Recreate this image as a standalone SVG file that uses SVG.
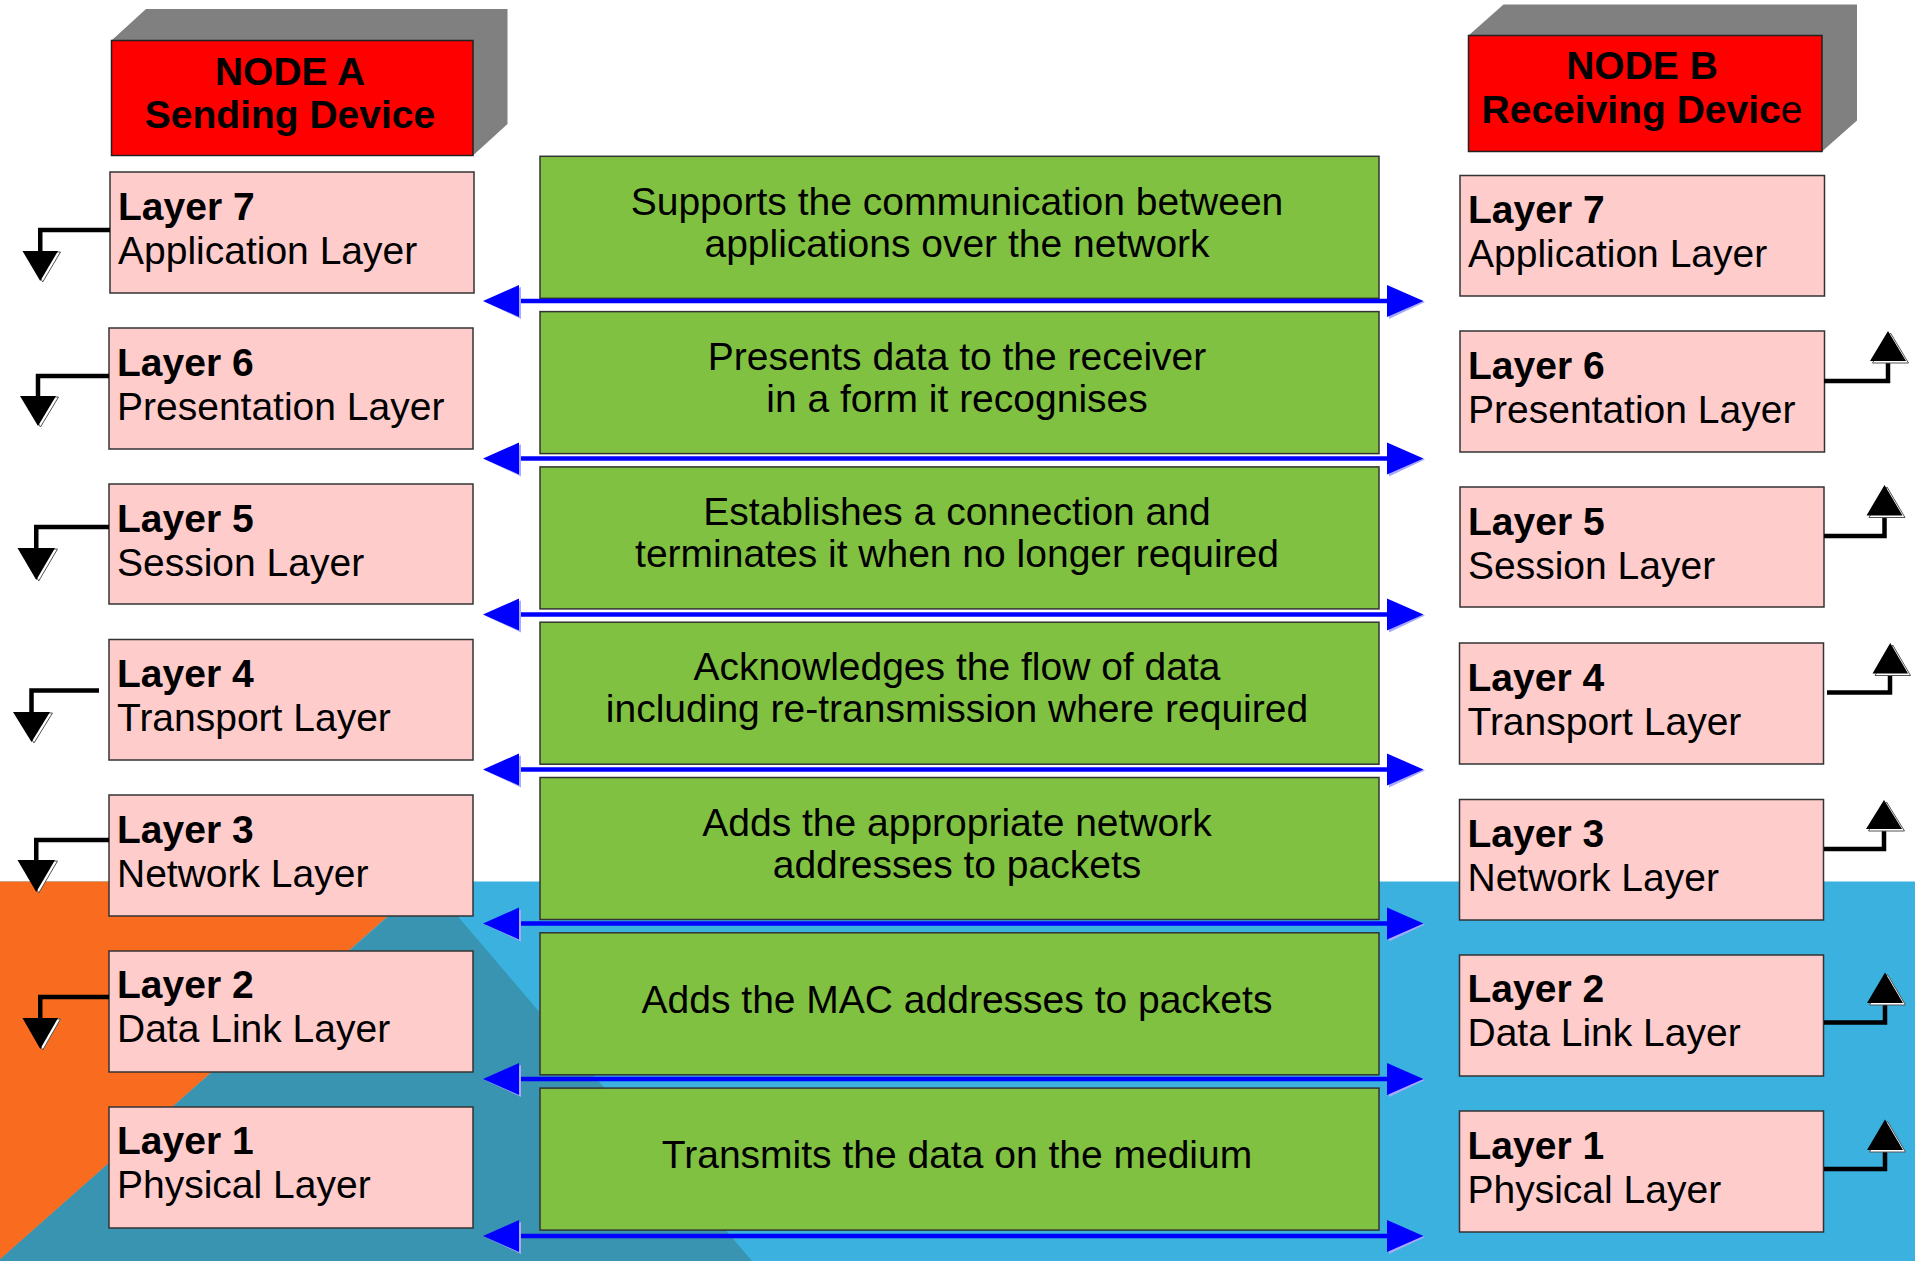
<svg xmlns="http://www.w3.org/2000/svg" width="1915" height="1261" viewBox="0 0 1915 1261">
<style>
text{font-family:"Liberation Sans",Arial,Helvetica,sans-serif;font-size:39px;fill:#000}
.b{font-weight:bold}
.c{text-anchor:middle}
.layer{fill:#FFCCCC;stroke:#333;stroke-width:1.5}
.desc{fill:#80C142;stroke:#333;stroke-width:1.5}
.head{fill:#FF0000;stroke:#222;stroke-width:1.5}
.side{fill:#808080}
.bl{fill:none;stroke:#000;stroke-width:4.5}
.bh{fill:#000}
.bs{fill:#fff;stroke:#555;stroke-width:1}
.ln{stroke:#0000FF;stroke-width:4.5}
.ah{fill:#0000FF}
.as{fill:#A8A8FF}
</style>
<rect width="1915" height="1261" fill="#fff"/>
<g id="background">
<rect x="0" y="881.5" width="1915" height="380" fill="#3AB1DF"/>
<polygon points="428,881.5 752,1261 -2,1261" fill="#3994B2"/>
<polygon points="0,881.5 427,881.5 -2,1261 0,1261" fill="#F96B1E"/>
</g>
<g id="nodeA">
<polygon class="side" points="111.5,40.5 146,9 507.5,9 507.5,124 473,155.5 473,40.5"/>
<rect class="head" x="111.5" y="40.5" width="361.5" height="115"/>
<text class="b c" x="290" y="85">NODE A</text>
<text class="b c" x="290" y="128">Sending Device</text>
</g>
<g id="nodeB">
<polygon class="side" points="1468.5,35.5 1503.5,4.5 1857,4.5 1857,120.5 1822,151.5 1822,35.5"/>
<rect class="head" x="1468.5" y="35.5" width="353.5" height="116"/>
<text class="b c" x="1642" y="79">NODE B</text>
<text class="b c" x="1642" y="123">Receiving Devic<tspan font-weight="normal">e</tspan></text>
</g>
<g id="A7"><rect class="layer" x="110" y="172" width="364" height="121"/><text class="b" x="118" y="219.5">Layer 7</text><text x="118" y="263.5">Application Layer</text></g>
<g id="A6"><rect class="layer" x="109" y="328" width="364" height="121"/><text class="b" x="117" y="375.5">Layer 6</text><text x="117" y="419.5">Presentation Layer</text></g>
<g id="A5"><rect class="layer" x="109" y="484" width="364" height="120"/><text class="b" x="117" y="531.5">Layer 5</text><text x="117" y="575.5">Session Layer</text></g>
<g id="A4"><rect class="layer" x="109" y="639.5" width="364" height="120.5"/><text class="b" x="117" y="687">Layer 4</text><text x="117" y="731">Transport Layer</text></g>
<g id="A3"><rect class="layer" x="109" y="795" width="364" height="121"/><text class="b" x="117" y="842.5">Layer 3</text><text x="117" y="886.5">Network Layer</text></g>
<g id="A2"><rect class="layer" x="109" y="951" width="364" height="121"/><text class="b" x="117" y="998">Layer 2</text><text x="117" y="1042">Data Link Layer</text></g>
<g id="A1"><rect class="layer" x="109" y="1107" width="364" height="121"/><text class="b" x="117" y="1154">Layer 1</text><text x="117" y="1198">Physical Layer</text></g>
<g id="B7"><rect class="layer" x="1460" y="175.5" width="364.5" height="120.5"/><text class="b" x="1468" y="223">Layer 7</text><text x="1468" y="267">Application Layer</text></g>
<g id="B6"><rect class="layer" x="1460" y="331" width="364.5" height="121"/><text class="b" x="1468" y="378.5">Layer 6</text><text x="1468" y="422.5">Presentation Layer</text></g>
<g id="B5"><rect class="layer" x="1460" y="487" width="364" height="120"/><text class="b" x="1468" y="534.5">Layer 5</text><text x="1468" y="578.5">Session Layer</text></g>
<g id="B4"><rect class="layer" x="1459.5" y="643" width="364" height="121"/><text class="b" x="1467.5" y="690.5">Layer 4</text><text x="1467.5" y="734.5">Transport Layer</text></g>
<g id="B3"><rect class="layer" x="1459.5" y="799.5" width="364" height="120.5"/><text class="b" x="1467.5" y="847">Layer 3</text><text x="1467.5" y="891">Network Layer</text></g>
<g id="B2"><rect class="layer" x="1459.5" y="955" width="364" height="121"/><text class="b" x="1467.5" y="1002">Layer 2</text><text x="1467.5" y="1046">Data Link Layer</text></g>
<g id="B1"><rect class="layer" x="1459.5" y="1111" width="364" height="121"/><text class="b" x="1467.5" y="1158.5">Layer 1</text><text x="1467.5" y="1202.5">Physical Layer</text></g>
<g id="D7"><rect class="desc" x="540" y="156.3" width="839" height="142"/><text class="c" x="957" y="214.5">Supports the communication between</text><text class="c" x="957" y="256.5">applications over the network</text></g>
<g id="D6"><rect class="desc" x="540" y="311.6" width="839" height="142"/><text class="c" x="957" y="369.5">Presents data to the receiver</text><text class="c" x="957" y="411.5">in a form it recognises</text></g>
<g id="D5"><rect class="desc" x="540" y="466.9" width="839" height="142"/><text class="c" x="957" y="525">Establishes a connection and</text><text class="c" x="957" y="567">terminates it when no longer required</text></g>
<g id="D4"><rect class="desc" x="540" y="622.2" width="839" height="142"/><text class="c" x="957" y="680">Acknowledges the flow of data</text><text class="c" x="957" y="722">including re-transmission where required</text></g>
<g id="D3"><rect class="desc" x="540" y="777.5" width="839" height="142"/><text class="c" x="957" y="835.5">Adds the appropriate network</text><text class="c" x="957" y="877.5">addresses to packets</text></g>
<g id="D2"><rect class="desc" x="540" y="932.8" width="839" height="142"/><text class="c" x="957" y="1012.5">Adds the MAC addresses to packets</text></g>
<g id="D1"><rect class="desc" x="540" y="1088.1" width="839" height="142"/><text class="c" x="957" y="1168">Transmits the data on the medium</text></g>
<g id="connectors">
<g id="peer">
<line class="ln" x1="515" y1="301" x2="1390" y2="301"/>
<polygon class="as" points="485,302 521,287 521,319"/><polygon class="ah" points="483,301 519,285 519,317"/>
<polygon class="as" points="1389,287 1425,302 1389,319"/><polygon class="ah" points="1387,285 1423.5,301 1387,317"/>
<line class="ln" x1="515" y1="458.5" x2="1390" y2="458.5"/>
<polygon class="as" points="485,459.5 521,444.5 521,476.5"/><polygon class="ah" points="483,458.5 519,442.5 519,474.5"/>
<polygon class="as" points="1389,444.5 1425,459.5 1389,476.5"/><polygon class="ah" points="1387,442.5 1423.5,458.5 1387,474.5"/>
<line class="ln" x1="515" y1="614.5" x2="1390" y2="614.5"/>
<polygon class="as" points="485,615.5 521,600.5 521,632.5"/><polygon class="ah" points="483,614.5 519,598.5 519,630.5"/>
<polygon class="as" points="1389,600.5 1425,615.5 1389,632.5"/><polygon class="ah" points="1387,598.5 1423.5,614.5 1387,630.5"/>
<line class="ln" x1="515" y1="769.5" x2="1390" y2="769.5"/>
<polygon class="as" points="485,770.5 521,755.5 521,787.5"/><polygon class="ah" points="483,769.5 519,753.5 519,785.5"/>
<polygon class="as" points="1389,755.5 1425,770.5 1389,787.5"/><polygon class="ah" points="1387,753.5 1423.5,769.5 1387,785.5"/>
<line class="ln" x1="515" y1="923.5" x2="1390" y2="923.5"/>
<polygon class="as" points="485,924.5 521,909.5 521,941.5"/><polygon class="ah" points="483,923.5 519,907.5 519,939.5"/>
<polygon class="as" points="1389,909.5 1425,924.5 1389,941.5"/><polygon class="ah" points="1387,907.5 1423.5,923.5 1387,939.5"/>
<line class="ln" x1="515" y1="1079" x2="1390" y2="1079"/>
<polygon class="as" points="485,1080 521,1065 521,1097"/><polygon class="ah" points="483,1079 519,1063 519,1095"/>
<polygon class="as" points="1389,1065 1425,1080 1389,1097"/><polygon class="ah" points="1387,1063 1423.5,1079 1387,1095"/>
<line class="ln" x1="515" y1="1236" x2="1390" y2="1236"/>
<polygon class="as" points="485,1237 521,1222 521,1254"/><polygon class="ah" points="483,1236 519,1220 519,1252"/>
<polygon class="as" points="1389,1222 1425,1237 1389,1254"/><polygon class="ah" points="1387,1220 1423.5,1236 1387,1252"/>
</g>
<g id="downA">
<path class="bl" d="M110,230 H40.25 V253"/>
<polygon class="bs" points="25,252 60.5,252 42.75,282"/><polygon class="bh" points="22.5,251 58,251 40.25,281"/>
<path class="bl" d="M109,376 H38 V398"/>
<polygon class="bs" points="22.5,397 58.5,397 40.5,427"/><polygon class="bh" points="20,396 56,396 38,426"/>
<path class="bl" d="M109,527 H36.25 V550"/>
<polygon class="bs" points="20,549 57.5,549 38.75,581"/><polygon class="bh" points="17.5,548 55,548 36.25,580"/>
<path class="bl" d="M99,690.5 H31.5 V714"/>
<polygon class="bs" points="15.5,713 52.5,713 34,743"/><polygon class="bh" points="13,712 50,712 31.5,742"/>
<path class="bl" d="M109,840 H36.25 V862"/>
<polygon class="bs" points="20,861 57.5,861 38.75,893"/><polygon class="bh" points="17.5,860 55,860 36.25,892"/>
<path class="bl" d="M109,997 H40.25 V1020"/>
<polygon class="bs" points="25,1019 60.5,1019 42.75,1050"/><polygon class="bh" points="22.5,1018 58,1018 40.25,1049"/>
</g>
<g id="upB">
<path class="bl" d="M1824,381 H1888 V359"/>
<polygon class="bs" points="1872.5,363 1908.5,363 1890.5,333"/><polygon class="bh" points="1870,361 1906,361 1888,331"/>
<path class="bl" d="M1824,536 H1884.5 V513.5"/>
<polygon class="bs" points="1869,517.5 1905,517.5 1887,487"/><polygon class="bh" points="1866.5,515.5 1902.5,515.5 1884.5,485"/>
<path class="bl" d="M1827,692.5 H1890 V671.5"/>
<polygon class="bs" points="1875,675.5 1910.5,675.5 1892.75,645"/><polygon class="bh" points="1872.5,673.5 1908,673.5 1890.25,643"/>
<path class="bl" d="M1824,849 H1884 V827"/>
<polygon class="bs" points="1868.5,831 1904.5,831 1886.5,802"/><polygon class="bh" points="1866,829 1902,829 1884,800"/>
<path class="bl" d="M1824,1022.5 H1885 V1001"/>
<polygon class="bs" points="1869.5,1005 1905.5,1005 1887.5,974.5"/><polygon class="bh" points="1867,1003 1903,1003 1885,972.5"/>
<path class="bl" d="M1824,1169 H1885 V1148"/>
<polygon class="bs" points="1869.5,1152 1905.5,1152 1887.5,1121.5"/><polygon class="bh" points="1867,1150 1903,1150 1885,1119.5"/>
</g>
</g>
</svg>
